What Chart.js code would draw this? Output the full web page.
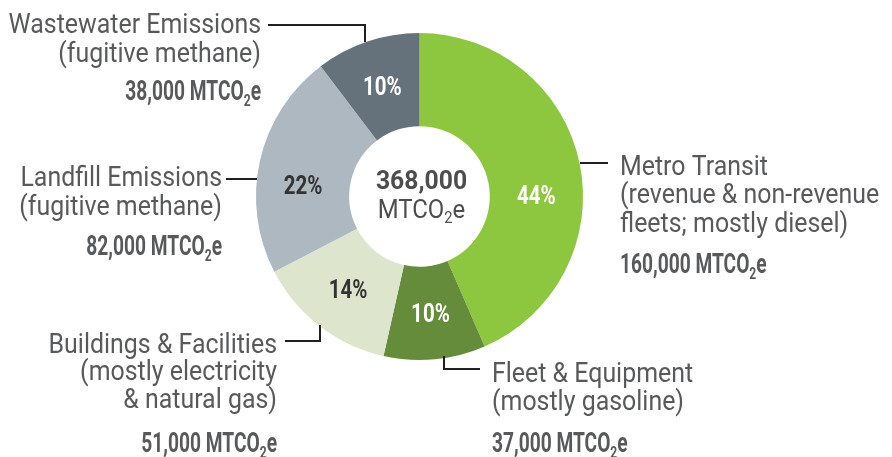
<!DOCTYPE html>
<html>
<head>
<meta charset="utf-8">
<script src="https://cdn.jsdelivr.net/npm/chart.js@4.4.1/dist/chart.umd.min.js"></script>
<style>
  html, body { margin: 0; padding: 0; background: #ffffff; }
  #wrap { width: 892px; height: 457px; position: relative; }
</style>
</head>
<body>
<div id="wrap"><canvas id="c" width="892" height="457"></canvas></div>
<script>
// ---- data ----
const categories = ['Metro Transit', 'Fleet & Equipment', 'Buildings & Facilities', 'Landfill Emissions', 'Wastewater Emissions'];
const subtitles = [
  ['(revenue & non-revenue', 'fleets; mostly diesel)'],
  ['(mostly gasoline)'],
  ['(mostly electricity', '& natural gas)'],
  ['(fugitive methane)'],
  ['(fugitive methane)']
];
const emissions = [160000, 37000, 51000, 82000, 38000];
const amountLabels = ['160,000', '37,000', '51,000', '82,000', '38,000'];
const percentLabels = ['44%', '10%', '14%', '22%', '10%'];
const totalLabel = '368,000';
const unitLabel = 'MTCO';

// ---- styles ----
const sliceColors = ['#8dc63f', '#658c3b', '#dde5cd', '#adb8c1', '#65727c'];
const percentColors = ['#ffffff', '#ffffff', '#333333', '#333333', '#ffffff'];
const TEXT = '#58595b';
const FONT = 'Roboto, "Liberation Sans", sans-serif';
// small angular nudges (degrees) for the in-slice percentage labels
const percentAngleNudge = [10.8, 0, 0, -7, 0];

// label layout (annotation placement)
const labelLayout = [
  { align: 'left',  x: 620, lines: [175, 203, 232], amount: 273, leader: [[580,163],[608,163]] },
  { align: 'left',  x: 492, lines: [382, 410], amount: 452, leader: [[444,356],[444,369],[480,369]] },
  { align: 'right', x: 277, lines: [353, 380, 408], amount: 452, leader: [[285,341],[320,341],[320,325]] },
  { align: 'right', x: 222, lines: [186, 215], amount: 255, leader: [[226,179],[257,179]] },
  { align: 'right', x: 261, lines: [33, 62], amount: 100, leader: [[268,25],[365,25],[365,42]] }
];

function textW(ctx, str, font, sx) { ctx.font = font; return ctx.measureText(str).width * sx; }
function drawT(ctx, str, left, y, font, sx, color) {
  ctx.save();
  ctx.font = font; ctx.fillStyle = color; ctx.textAlign = 'left'; ctx.textBaseline = 'alphabetic';
  ctx.translate(left, y); ctx.scale(sx, 1); ctx.fillText(str, 0, 0);
  ctx.restore();
}
// draws "<num> MTCO2e" with subscript 2
function drawUnit(ctx, prefix, anchorX, y, align, size, weight, sx, color) {
  const f = weight + ' ' + size + 'px ' + FONT;
  const fs = weight + ' ' + Math.round(size * 0.62) + 'px ' + FONT;
  const a = prefix + unitLabel, b = '2', c = 'e';
  const wa = textW(ctx, a, f, sx), wb = textW(ctx, b, fs, sx), wc = textW(ctx, c, f, sx);
  const total = wa + wb + wc;
  let left = align === 'right' ? anchorX - total : align === 'center' ? anchorX - total / 2 : anchorX;
  drawT(ctx, a, left, y, f, sx, color);
  drawT(ctx, b, left + wa, y + size * 0.22, fs, sx, color);
  drawT(ctx, c, left + wa + wb, y, f, sx, color);
}

const labelsPlugin = {
  id: 'labelsPlugin',
  afterDatasetsDraw(chart) {
    const ctx = chart.ctx;
    const meta = chart.getDatasetMeta(0);
    // percent labels inside the slices
    meta.data.forEach((arc, i) => {
      const pr = arc.getProps(['x', 'y', 'startAngle', 'endAngle', 'innerRadius', 'outerRadius']);
      const ang = (pr.startAngle + pr.endAngle) / 2 + percentAngleNudge[i] * Math.PI / 180;
      const r = (pr.innerRadius + pr.outerRadius) / 2;
      const px = pr.x + Math.cos(ang) * r, py = pr.y + Math.sin(ang) * r;
      const f = 'bold 25px ' + FONT;
      const w = textW(ctx, percentLabels[i], f, 0.82);
      drawT(ctx, percentLabels[i], px - w / 2, py + 9, f, 0.82, percentColors[i]);
    });
    // centre total
    const cx = meta.data[0].x, cy = meta.data[0].y;
    const fb = 'bold 26px ' + FONT;
    const wt = textW(ctx, totalLabel, fb, 0.95);
    drawT(ctx, totalLabel, cx + 2 - wt / 2, cy - 8, fb, 0.95, '#4d4d4d');
    drawUnit(ctx, '', cx + 2, cy + 21, 'center', 26, 'normal', 0.92, '#4d4d4d');
    // outside labels + leaders
    labelLayout.forEach((L, i) => {
      ctx.save();
      ctx.strokeStyle = '#231f20'; ctx.lineWidth = 2; ctx.lineJoin = 'miter';
      ctx.beginPath();
      L.leader.forEach((pt, k) => k ? ctx.lineTo(pt[0], pt[1]) : ctx.moveTo(pt[0], pt[1]));
      ctx.stroke();
      ctx.restore();
      const lines = [categories[i]].concat(subtitles[i]);
      const f = 'normal 28px ' + FONT;
      lines.forEach((s, k) => {
        const w = textW(ctx, s, f, 0.89);
        const left = L.align === 'right' ? L.x - w : L.x;
        drawT(ctx, s, left, L.lines[k], f, 0.89, TEXT);
      });
      drawUnit(ctx, amountLabels[i] + ' ', L.x, L.amount, L.align, 27, 'bold', 0.71, TEXT);
    });
  }
};

new Chart(document.getElementById('c'), {
  type: 'doughnut',
  data: {
    labels: categories,
    datasets: [{
      data: emissions,
      backgroundColor: sliceColors,
      borderWidth: 0,
      hoverOffset: 0
    }]
  },
  options: {
    responsive: false,
    animation: false,
    cutout: '43%',
    layout: { padding: { left: 256, right: 309, top: 33, bottom: 97 } },
    plugins: { legend: { display: false }, tooltip: { enabled: false } },
    events: []
  },
  plugins: [labelsPlugin]
});
</script>
</body>
</html>
